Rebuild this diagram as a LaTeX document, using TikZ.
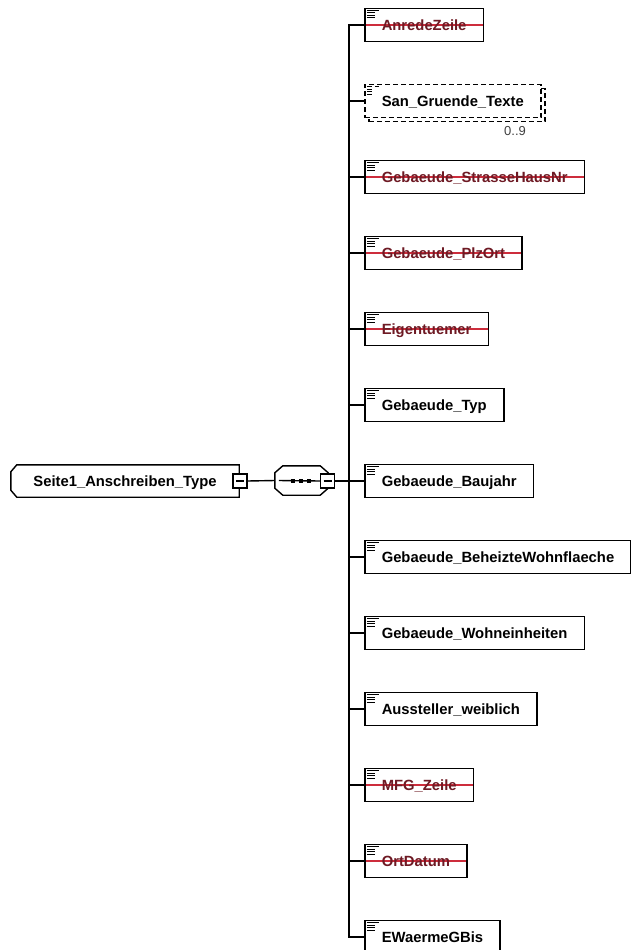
\documentclass[tikz,border=0pt]{standalone}
\usepackage{fontspec}
\setmainfont{Liberation Sans}
\usetikzlibrary{shadows}

\definecolor{oldtext}{RGB}{110,26,36}
\definecolor{oldline}{RGB}{205,45,60}

\newcommand{\elicon}{%
\draw[line width=1pt] ([shift={(2pt,-2pt)}]path picture bounding box.north west) -- ++(12pt,0pt);
\draw[line width=1pt] ([shift={(2pt,-4.5pt)}]path picture bounding box.north west) -- ++(8pt,0pt);
\draw[line width=1pt] ([shift={(2pt,-7pt)}]path picture bounding box.north west) -- ++(8pt,0pt);
\draw[line width=1pt] ([shift={(2pt,-9.5pt)}]path picture bounding box.north west) -- ++(8pt,0pt);}

\tikzset{
  conn/.style={line width=1.4pt},
  elem/.style={draw, fill=white, line width=1.5pt, anchor=west, minimum height=33pt,
    inner xsep=17pt, inner ysep=0pt, text height=11pt, text depth=0pt,
    font=\bfseries\fontsize{14.8}{18}\selectfont, path picture={\elicon}},
  obsolete/.style={text=oldtext, path picture={\elicon
    \draw[oldline, line width=1.2pt] (path picture bounding box.west) -- (path picture bounding box.east);}},
  optional/.style={dash pattern=on 5pt off 3pt,
    copy shadow={shadow xshift=4pt, shadow yshift=-4pt, dash pattern=on 5pt off 3pt, line width=1.5pt}},
  mult/.style={font=\fontsize{13}{15}\selectfont, text=black!75, inner sep=0pt},
  typebox/.style={minimum width=228pt, minimum height=32pt, inner sep=0pt,
    text height=11pt, text depth=0pt, font=\bfseries\fontsize{14.8}{18}\selectfont},
  seqbox/.style={minimum width=53pt, minimum height=29pt, inner sep=0pt},
  btn/.style={draw, fill=white, line width=1.4pt, minimum size=14pt, inner sep=0pt,
    path picture={\draw[line width=1.2pt] ([xshift=3pt]path picture bounding box.west) -- ([xshift=-3pt]path picture bounding box.east);}}
}

\begin{document}
\begin{tikzpicture}[x=1pt,y=-1pt]
\useasboundingbox (0,0) rectangle (630,950);

\node[typebox] (root) at (125,481) {Seite1\_Anschreiben\_Type};
\draw[conn] ([xshift=6pt]root.north west) -- (root.north east) -- (root.south east)
  -- ([xshift=6pt]root.south west) -- ([yshift=7pt]root.south west)
  -- ([yshift=-7pt]root.north west) -- cycle;
\node[btn] (rootbtn) at (240,481) {};
\node[seqbox] (seq) at (301.5,480.5) {};
\draw[conn, fill=white] ([xshift=8pt]seq.north west) -- ([xshift=-8pt]seq.north east)
  -- ([yshift=-7pt]seq.north east) -- ([yshift=7pt]seq.south east)
  -- ([xshift=-8pt]seq.south east) -- ([xshift=8pt]seq.south west)
  -- ([yshift=7pt]seq.south west) -- ([yshift=-7pt]seq.north west) -- cycle;
\node[btn] (seqbtn) at (327.5,481) {};
\draw[conn] ([xshift=4pt]seq.west) -- (seqbtn.west);
\fill (291,479) rectangle ++(4,4);
\fill (299,479) rectangle ++(4,4);
\fill (307,479) rectangle ++(4,4);
\coordinate (bus) at (349,481);
\draw[conn] (rootbtn.east) -- (seq.west);
\draw[conn] (seqbtn.east) -- (bus);

\node[elem, obsolete] (anrede) at (364,25) {AnredeZeile};
\node[elem, optional] (gruende) at (364,101) {San\_Gruende\_Texte};
\node[mult] (gruendemult) at (515,131) {0..9};
\node[elem, obsolete] (strasse) at (364,177) {Gebaeude\_StrasseHausNr};
\node[elem, obsolete] (plzort) at (364,253) {Gebaeude\_PlzOrt};
\node[elem, obsolete] (eigent) at (364,329) {Eigentuemer};
\node[elem] (typ) at (364,405) {Gebaeude\_Typ};
\node[elem] (baujahr) at (364,481) {Gebaeude\_Baujahr};
\node[elem] (flaeche) at (364,557) {Gebaeude\_BeheizteWohnflaeche};
\node[elem] (einheiten) at (364,633) {Gebaeude\_Wohneinheiten};
\node[elem] (aussteller) at (364,709) {Aussteller\_weiblich};
\node[elem, obsolete] (mfg) at (364,785) {MFG\_Zeile};
\node[elem, obsolete] (ortdatum) at (364,861) {OrtDatum};
\node[elem] (ewaerme) at (364,937) {EWaermeGBis};

\draw[conn] (anrede.west) -| (bus);
\draw[conn] (gruende.west) -| (bus);
\draw[conn] (strasse.west) -| (bus);
\draw[conn] (plzort.west) -| (bus);
\draw[conn] (eigent.west) -| (bus);
\draw[conn] (typ.west) -| (bus);
\draw[conn] (baujahr.west) -| (bus);
\draw[conn] (flaeche.west) -| (bus);
\draw[conn] (einheiten.west) -| (bus);
\draw[conn] (aussteller.west) -| (bus);
\draw[conn] (mfg.west) -| (bus);
\draw[conn] (ortdatum.west) -| (bus);
\draw[conn] (ewaerme.west) -| (bus);
\end{tikzpicture}
\end{document}
